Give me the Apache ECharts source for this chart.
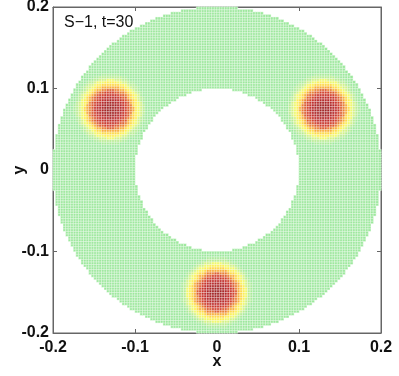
<!DOCTYPE html>
<html>
<head>
<meta charset="utf-8">
<script src="https://cdn.jsdelivr.net/npm/echarts@6/dist/echarts.min.js"></script>
<style>
  html, body { margin: 0; padding: 0; background: #fff; }
  #chart { width: 399px; height: 376px; }
</style>
</head>
<body>
<div id="chart"></div>
<script>
// axis ticks (both axes)
const TICKS = [-0.2, -0.1, 0, 0.1, 0.2];
// annulus: inner and outer radius
const RING_RADII = [0.1, 0.2];
// hot spot centres
const SPOT_X = [-0.13, 0.13, 0];
const SPOT_Y = [0.075, 0.075, -0.15];
// radial profile of a spot
const PROFILE_R = [0, 0.0025, 0.005, 0.0075, 0.01, 0.0125, 0.015, 0.0175, 0.02,
  0.0225, 0.025, 0.0275, 0.03, 0.0325, 0.035, 0.0375, 0.04, 0.0425, 0.045];
const PROFILE_V = [1, 0.99, 0.97, 0.95, 0.92, 0.88, 0.84, 0.79, 0.73,
  0.66, 0.58, 0.49, 0.4, 0.31, 0.22, 0.14, 0.07, 0.03, 0];
const CELLS = 128;
const TITLE = 'S\u22121, t=30';

function profileAt(d) {
  // nearest entry of the read profile
  let best = 0;
  for (let k = 1; k < PROFILE_R.length; k += 1) {
    if (Math.abs(PROFILE_R[k] - d) < Math.abs(PROFILE_R[best] - d)) best = k;
  }
  return d > PROFILE_R[PROFILE_R.length - 1] ? 0 : PROFILE_V[best];
}

const lo = TICKS[0];
const span = TICKS[TICKS.length - 1] - TICKS[0];
const step = span / CELLS;
const cats = [];
for (let i = 0; i < CELLS; i += 1) cats.push((lo + (i + 0.5) * step).toFixed(5));

const cells = [];
for (let i = 0; i < CELLS; i += 1) {
  for (let j = 0; j < CELLS; j += 1) {
    const x = Number(cats[i]);
    const y = Number(cats[j]);
    const r = Math.hypot(x, y);
    if (r < RING_RADII[0] || r > RING_RADII[1]) continue;
    let v = 0;
    SPOT_X.forEach((sx, k) => {
      v = Math.max(v, profileAt(Math.hypot(x - sx, y - SPOT_Y[k])));
    });
    cells.push([i, j, v]);
  }
}

const axisFont = { fontFamily: 'Arial', fontSize: 16, fontWeight: 'bold', color: '#111' };
const lineColor = '#666';
const fmt = (v) => String(Math.round(v * 10) / 10);

const chart = echarts.init(document.getElementById('chart'), null, { renderer: 'canvas' });
chart.setOption({
  animation: false,
  title: {
    text: TITLE,
    left: 59,
    top: 10,
    textStyle: { fontFamily: 'Arial', fontSize: 16, fontWeight: 'normal', color: '#111' }
  },
  grid: {
    left: 53, right: 18, top: 7, bottom: 43,
    outerBoundsMode: 'none',
    containLabel: false,
    show: true, borderColor: lineColor, borderWidth: 1, backgroundColor: 'transparent'
  },
  visualMap: {
    show: false,
    min: 0,
    max: 1,
    dimension: 2,
    inRange: {
      color: ['#9de89d', '#cdf08a', '#f8fa60', '#ffe44a', '#f6a838',
        '#e26a30', '#d03a2c', '#b82a2a', '#9c2222']
    }
  },
  xAxis: [
    { type: 'category', data: cats, show: false },
    {
      type: 'value', min: TICKS[0], max: TICKS[TICKS.length - 1], interval: 0.1,
      position: 'bottom', name: 'x', nameLocation: 'middle', nameGap: 21,
      nameMoveOverlap: false,
      nameTextStyle: axisFont,
      axisLine: { show: true, onZero: false, lineStyle: { color: lineColor } },
      axisTick: { show: true, inside: true, length: 4, lineStyle: { color: lineColor } },
      axisLabel: { ...axisFont, margin: 7, formatter: fmt },
      splitLine: { show: false }
    },
    {
      type: 'value', min: TICKS[0], max: TICKS[TICKS.length - 1], interval: 0.1,
      position: 'top',
      axisLine: { show: true, onZero: false, lineStyle: { color: lineColor } },
      axisTick: { show: true, inside: true, length: 4, lineStyle: { color: lineColor } },
      axisLabel: { show: false },
      splitLine: { show: false }
    }
  ],
  yAxis: [
    { type: 'category', data: cats, show: false },
    {
      type: 'value', min: TICKS[0], max: TICKS[TICKS.length - 1], interval: 0.1,
      position: 'left', name: 'y', nameLocation: 'middle', nameGap: 25, nameRotate: 90,
      nameMoveOverlap: false,
      nameTextStyle: axisFont,
      axisLine: { show: true, onZero: false, lineStyle: { color: lineColor } },
      axisTick: { show: true, inside: true, length: 4, lineStyle: { color: lineColor } },
      axisLabel: { ...axisFont, margin: 4, formatter: fmt },
      splitLine: { show: false }
    },
    {
      type: 'value', min: TICKS[0], max: TICKS[TICKS.length - 1], interval: 0.1,
      position: 'right',
      axisLine: { show: true, onZero: false, lineStyle: { color: lineColor } },
      axisTick: { show: true, inside: true, length: 4, lineStyle: { color: lineColor } },
      axisLabel: { show: false },
      splitLine: { show: false }
    }
  ],
  series: [
    {
      type: 'heatmap',
      xAxisIndex: 0,
      yAxisIndex: 0,
      data: cells,
      itemStyle: { borderColor: 'rgba(255,255,255,0.6)', borderWidth: 0.7 },
      emphasis: { disabled: true }
    }
  ]
});
</script>
</body>
</html>
